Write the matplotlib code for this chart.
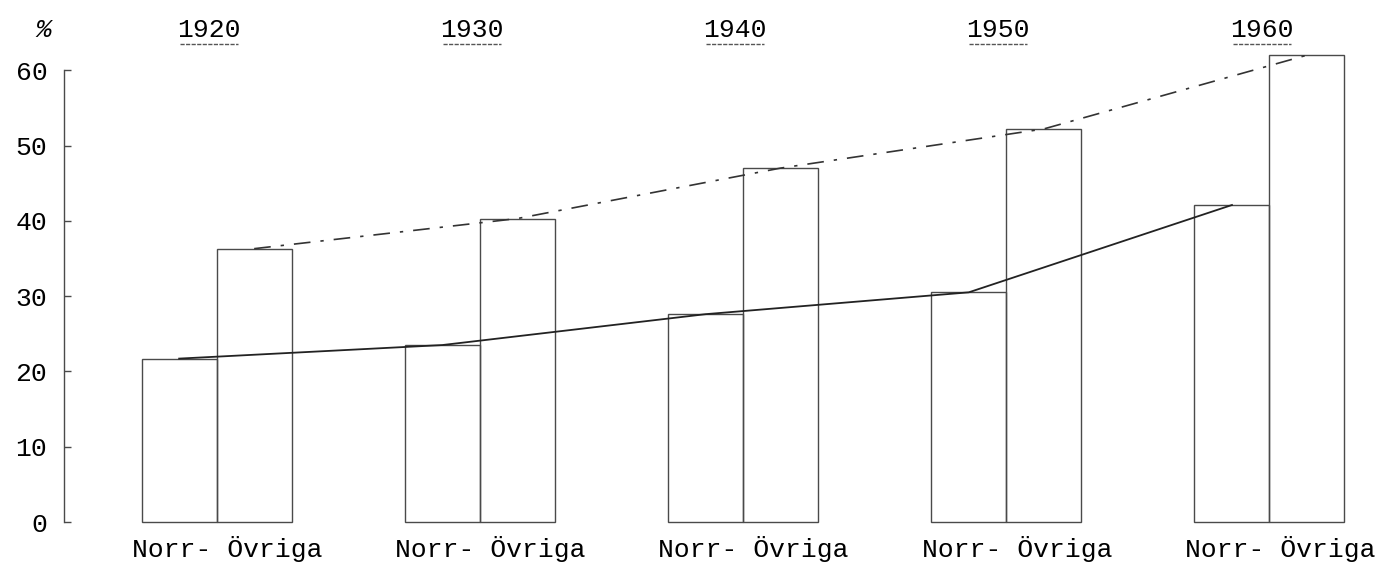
import matplotlib.pyplot as plt
import numpy as np

# years and the two series (percent)
years = ["1920", "1930", "1940", "1950", "1960"]
norr = [21.7, 23.5, 27.6, 30.5, 42.1]
ovriga = [36.3, 40.3, 47.0, 52.2, 62.0]
bar_labels = ["Norr-", "Övriga"]
yticks = [0, 10, 20, 30, 40, 50, 60]

plt.rcParams['font.family'] = ['Liberation Mono', 'DejaVu Sans Mono']

fig = plt.figure(figsize=(13.8, 5.67), dpi=100)
ax = fig.add_axes([64 / 1380, 45 / 567, 1 - 64 / 1380, 0.83])

x = np.arange(len(years))
w = 0.285
edge = '#4a4a4a'
b1 = ax.bar(x - w / 2, norr, width=w, fill=False, edgecolor=edge, linewidth=1.0)
b2 = ax.bar(x + w / 2, ovriga, width=w, fill=False, edgecolor=edge, linewidth=1.0)
for p in list(b1) + list(b2):
    p.set_clip_on(False)   # keep the bottom edge of the boxes fully visible

# trend lines through the middle of the bar tops
ax.plot(x - w / 2, norr, color='#222222', linewidth=1.3)
ax.plot(x + w / 2, ovriga, color='#333333', linewidth=1.2,
        linestyle=(0, (10, 6, 2, 6)))

ax.set_xlim(-0.58, 4.42)
ax.set_ylim(0, 62.5)

ax.spines['top'].set_visible(False)
ax.spines['right'].set_visible(False)
ax.spines['bottom'].set_visible(False)
ax.spines['left'].set_bounds(0, 60)
ax.spines['left'].set_color(edge)
ax.spines['left'].set_linewidth(1.0)

ax.set_yticks(yticks)
ax.set_yticklabels([str(v) for v in yticks])
ax.tick_params(axis='y', direction='in', length=5, width=1.0, color=edge,
               pad=12, labelsize=19)

ax.set_xticks(x + 0.04)
ax.set_xticklabels([f"{bar_labels[0]} {bar_labels[1]}"] * len(years))
ax.tick_params(axis='x', length=0, pad=10, labelsize=19)

# years on top, underlined like the typewritten original
tr = ax.get_xaxis_transform()
for xi, yr in zip(x, years):
    ax.text(xi - 0.03, 1.03, yr, transform=tr, ha='center', va='baseline', fontsize=19)
    ax.plot([xi - 0.14, xi + 0.08], [1.015, 1.015], transform=tr, color='#555555',
            linewidth=1.0, linestyle=(0, (3, 1)), clip_on=False)
ax.text(-0.63, 1.03, '%', transform=tr, ha='right', va='baseline',
        fontsize=19, style='italic')

fig.savefig('out.png', dpi=100)
